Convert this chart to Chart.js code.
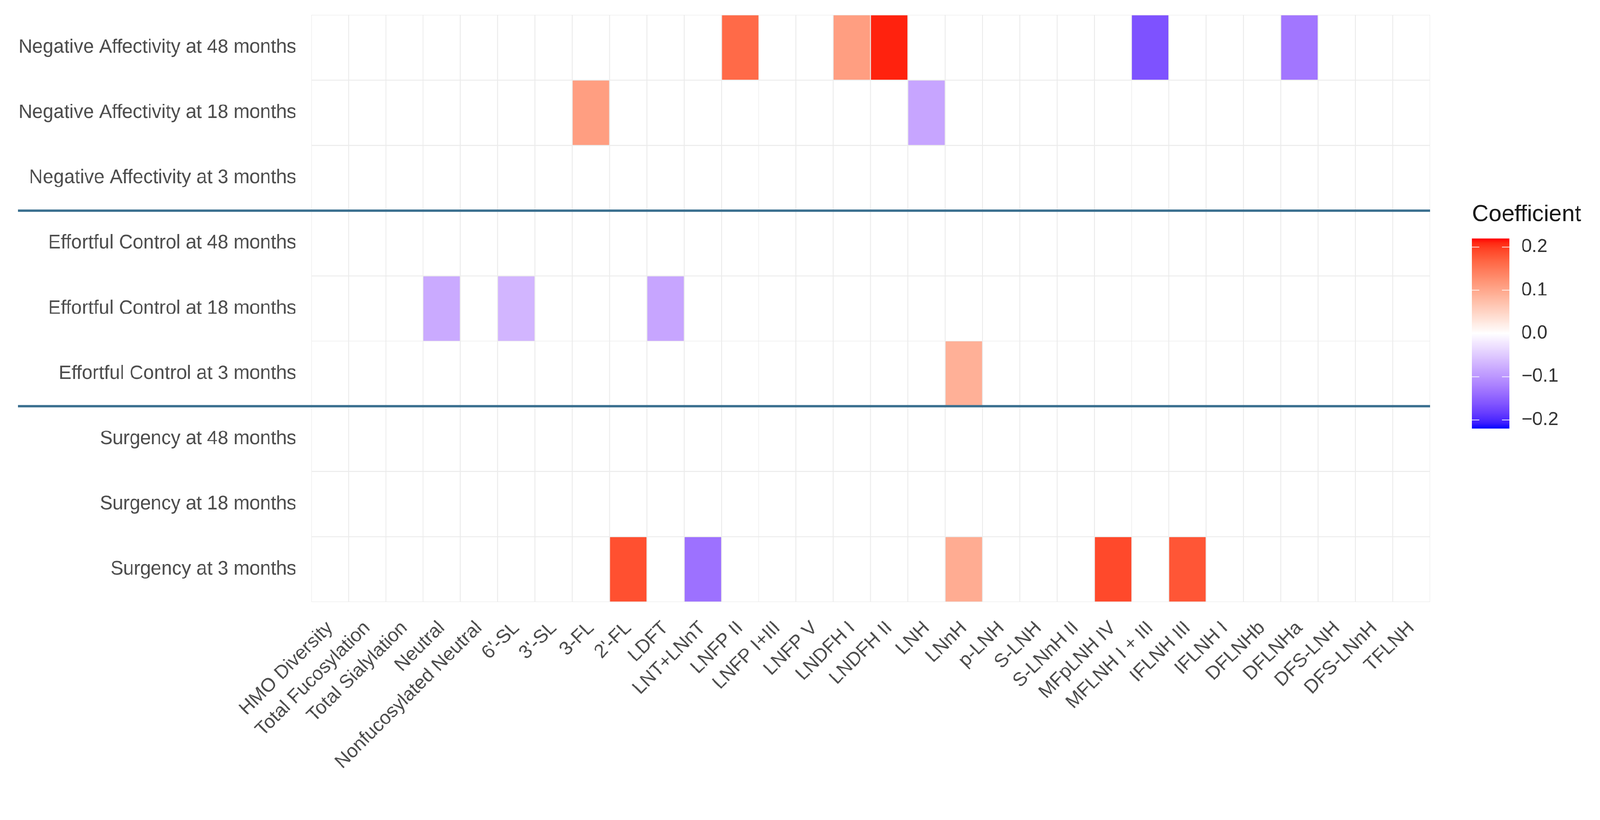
<!DOCTYPE html>
<html>
<head>
<meta charset="utf-8">
<title>HMO – temperament coefficients</title>
<script src="https://cdn.jsdelivr.net/npm/chart.js@4.4.1/dist/chart.umd.min.js"></script>
<style>
  html, body { margin: 0; padding: 0; background: #fff; overflow: hidden; }
  #stage { position: absolute; left: 0; top: 0; width: 4272px; height: 2099px; transform-origin: 0 0; }
  #heat  { position: absolute; left: 0; top: 0; }
  #bar   { position: absolute; left: 3900px; top: 520px; }
</style>
</head>
<body>
<div id="stage">
  <canvas id="heat" width="4272" height="2099"></canvas>
  <canvas id="bar" width="372" height="640"></canvas>
</div>
<script>
// ── Data ──────────────────────────────────────────────────
const hmos = [
  "HMO Diversity", "Total Fucosylation", "Total Sialylation", "Neutral",
  "Nonfucosylated Neutral", "6'-SL", "3'-SL", "3-FL", "2'-FL", "LDFT",
  "LNT+LNnT", "LNFP II", "LNFP I+III", "LNFP V", "LNDFH I", "LNDFH II",
  "LNH", "LNnH", "p-LNH", "S-LNH", "S-LNnH II", "MFpLNH IV", "MFLNH I + III",
  "IFLNH III", "IFLNH I", "DFLNHb", "DFLNHa", "DFS-LNH", "DFS-LNnH", "TFLNH"
];

// bottom row first
const outcomes = [
  "Surgency at 3 months", "Surgency at 18 months", "Surgency at 48 months",
  "Effortful Control at 3 months", "Effortful Control at 18 months", "Effortful Control at 48 months",
  "Negative Affectivity at 3 months", "Negative Affectivity at 18 months", "Negative Affectivity at 48 months"
];

// one value per HMO, same order as hmos (0 = not shown)
const surg3  = [0, 0, 0, 0,     0, 0,     0, 0,    0.185, 0,     -0.135, 0,     0, 0, 0,    0,      0,     0.095, 0, 0, 0, 0.19,  0,     0.18, 0, 0, 0,     0, 0, 0];
const surg18 = [0, 0, 0, 0,     0, 0,     0, 0,    0,     0,      0,     0,     0, 0, 0,    0,      0,     0,     0, 0, 0, 0,     0,     0,    0, 0, 0,     0, 0, 0];
const surg48 = [0, 0, 0, 0,     0, 0,     0, 0,    0,     0,      0,     0,     0, 0, 0,    0,      0,     0,     0, 0, 0, 0,     0,     0,    0, 0, 0,     0, 0, 0];
const ec3    = [0, 0, 0, 0,     0, 0,     0, 0,    0,     0,      0,     0,     0, 0, 0,    0,      0,     0.09,  0, 0, 0, 0,     0,     0,    0, 0, 0,     0, 0, 0];
const ec18   = [0, 0, 0, -0.08, 0, -0.07, 0, 0,    0,     -0.085, 0,     0,     0, 0, 0,    0,      0,     0,     0, 0, 0, 0,     0,     0,    0, 0, 0,     0, 0, 0];
const ec48   = [0, 0, 0, 0,     0, 0,     0, 0,    0,     0,      0,     0,     0, 0, 0,    0,      0,     0,     0, 0, 0, 0,     0,     0,    0, 0, 0,     0, 0, 0];
const neg3   = [0, 0, 0, 0,     0, 0,     0, 0,    0,     0,      0,     0,     0, 0, 0,    0,      0,     0,     0, 0, 0, 0,     0,     0,    0, 0, 0,     0, 0, 0];
const neg18  = [0, 0, 0, 0,     0, 0,     0, 0.11, 0,     0,      0,     0,     0, 0, 0,    0,     -0.085, 0,     0, 0, 0, 0,     0,     0,    0, 0, 0,     0, 0, 0];
const neg48  = [0, 0, 0, 0,     0, 0,     0, 0,    0,     0,      0,     0.163, 0, 0, 0.11, 0.212,  0,     0,     0, 0, 0, 0,    -0.165, 0,    0, 0, -0.13, 0, 0, 0];

const rowValues   = [surg3, surg18, surg48, ec3, ec18, ec48, neg3, neg18, neg48];
const dividers    = [3, 6];                       // group boundaries (row units)
const legendTicks = [-0.2, -0.1, 0, 0.1, 0.2];
const colorMax    = 0.22;

const FONT = "'Liberation Sans', Arial, Helvetica, sans-serif";

// ── Fit the 4272x2099 stage into the window ──────────────
function fitStage() {
  const s = Math.min(window.innerWidth / 4272, window.innerHeight / 2099);
  document.getElementById("stage").style.transform = `scale(${s})`;
}
fitStage();
window.addEventListener("resize", fitStage);

// ── Diverging blue–white–red scale, mixed in Lab ──────────
function rgbToLab([r, g, b]) {
  const lin = c => { c /= 255; return c <= 0.04045 ? c / 12.92 : Math.pow((c + 0.055) / 1.055, 2.4); };
  const R = lin(r), G = lin(g), B = lin(b);
  const X = (0.4124564 * R + 0.3575761 * G + 0.1804375 * B) / 0.95047;
  const Y =  0.2126729 * R + 0.7151522 * G + 0.0721750 * B;
  const Z = (0.0193339 * R + 0.1191920 * G + 0.9503041 * B) / 1.08883;
  const f = t => t > 0.008856 ? Math.cbrt(t) : 7.787 * t + 16 / 116;
  return [116 * f(Y) - 16, 500 * (f(X) - f(Y)), 200 * (f(Y) - f(Z))];
}

function labToRgb([L, a, bb]) {
  const fy = (L + 16) / 116, fx = fy + a / 500, fz = fy - bb / 200;
  const inv = t => t * t * t > 0.008856 ? t * t * t : (t - 16 / 116) / 7.787;
  const X = inv(fx) * 0.95047, Y = inv(fy), Z = inv(fz) * 1.08883;
  const R =  3.2404542 * X - 1.5371385 * Y - 0.4985314 * Z;
  const G = -0.9692660 * X + 1.8760108 * Y + 0.0415560 * Z;
  const B =  0.0556434 * X - 0.2040259 * Y + 1.0572252 * Z;
  const gam = c => {
    c = Math.min(1, Math.max(0, c));
    c = c <= 0.0031308 ? 12.92 * c : 1.055 * Math.pow(c, 1 / 2.4) - 0.055;
    return Math.round(c * 255);
  };
  return `rgb(${gam(R)},${gam(G)},${gam(B)})`;
}

const labLow  = rgbToLab([0, 0, 255]);
const labMid  = rgbToLab([255, 255, 255]);
const labHigh = rgbToLab([255, 0, 0]);

function coefColor(v) {
  const t = Math.max(-1, Math.min(1, v / colorMax));
  const end = t < 0 ? labLow : labHigh;
  const k = Math.abs(t);
  return labToRgb(labMid.map((m, i) => m + (end[i] - m) * k));
}

// ── Plugins ───────────────────────────────────────────────
const groupLines = {
  id: "groupLines",
  afterDatasetsDraw(chart) {
    const { ctx, chartArea, scales: { y } } = chart;
    ctx.save();
    ctx.strokeStyle = "#3a6f8f";
    ctx.lineWidth = 6;
    dividers.forEach(v => {
      const py = y.getPixelForValue(v);
      ctx.beginPath();
      ctx.moveTo(48, py);
      ctx.lineTo(chartArea.right, py);
      ctx.stroke();
    });
    ctx.restore();
  }
};

const barTicks = {
  id: "barTicks",
  afterDatasetsDraw(chart) {
    const { ctx, chartArea, scales: { y } } = chart;
    ctx.save();
    ctx.strokeStyle = "rgba(255,255,255,0.85)";
    ctx.lineWidth = 2;
    y.ticks.forEach(t => {
      const py = y.getPixelForValue(t.value);
      ctx.beginPath();
      ctx.moveTo(chartArea.left, py);       ctx.lineTo(chartArea.left + 20, py);
      ctx.moveTo(chartArea.right - 20, py); ctx.lineTo(chartArea.right, py);
      ctx.stroke();
    });
    ctx.restore();
  }
};

// ── Heatmap ───────────────────────────────────────────────
const datasets = outcomes.map((name, r) => ({
  label: name,
  data: hmos.map(() => [r, r + 1]),
  backgroundColor: rowValues[r].map(coefColor),
  borderColor: "#ebebeb",
  borderWidth: 1.5,
  borderSkipped: false,
  grouped: false,
  barPercentage: 1,
  categoryPercentage: 1,
}));

new Chart(document.getElementById("heat"), {
  type: "bar",
  data: { labels: hmos, datasets },
  options: {
    responsive: false,
    animation: false,
    devicePixelRatio: 1,
    layout: { padding: { left: 0, top: 40, right: 454, bottom: 0 } },
    plugins: { legend: { display: false }, tooltip: { enabled: false } },
    scales: {
      x: {
        grid: { display: false, drawTicks: false },
        border: { display: false },
        afterFit(s) { s.height = 492; },
        ticks: {
          autoSkip: false, minRotation: 45, maxRotation: 45, padding: 40,
          color: "#4d4d4d", font: { family: FONT, size: 51 }
        }
      },
      y: {
        min: 0, max: 9,
        grid: { display: false, drawTicks: false },
        border: { display: false },
        afterBuildTicks(s) { s.ticks = outcomes.map((_, i) => ({ value: i + 0.5 })); },
        afterFit(s) { s.width = 831; s.paddingTop = 0; s.paddingBottom = 0; },
        ticks: {
          padding: 40, color: "#4d4d4d", font: { family: FONT, size: 51 },
          callback: v => outcomes[Math.floor(v)]
        }
      }
    }
  },
  plugins: [groupLines]
});

// ── Colour bar legend ─────────────────────────────────────
function barGradient(chart) {
  const area = chart.chartArea;
  if (!area) return coefColor(0);
  const g = chart.ctx.createLinearGradient(0, area.bottom, 0, area.top);
  for (let i = 0; i <= 40; i++) {
    g.addColorStop(i / 40, coefColor(-colorMax + (2 * colorMax * i) / 40));
  }
  return g;
}

new Chart(document.getElementById("bar"), {
  type: "bar",
  data: {
    labels: ["Coefficient"],
    datasets: [{
      data: [[-colorMax, colorMax]],
      backgroundColor: ctx => barGradient(ctx.chart),
      borderWidth: 0,
      barPercentage: 1,
      categoryPercentage: 1,
    }]
  },
  options: {
    responsive: false,
    animation: false,
    devicePixelRatio: 1,
    layout: { padding: { left: 30, top: 0, right: 0, bottom: 16 } },
    plugins: {
      legend: { display: false },
      tooltip: { enabled: false },
      title: {
        display: true, text: "Coefficient", align: "start", color: "#1a1a1a",
        font: { family: FONT, size: 62, weight: "normal" },
        padding: { top: 16, bottom: 26 }
      }
    },
    scales: {
      x: { display: false },
      y: {
        position: "right",
        min: -colorMax, max: colorMax,
        grid: { display: false, drawTicks: false },
        border: { display: false },
        afterBuildTicks(s) { s.ticks = legendTicks.map(v => ({ value: v })); },
        afterFit(s) { s.width = 242; s.paddingTop = 0; s.paddingBottom = 0; },
        ticks: {
          padding: 32, color: "#333333", font: { family: FONT, size: 50 },
          callback: v => (v < 0 ? "\u2212" : "") + Math.abs(v).toFixed(1)
        }
      }
    }
  },
  plugins: [barTicks]
});
</script>
</body>
</html>
